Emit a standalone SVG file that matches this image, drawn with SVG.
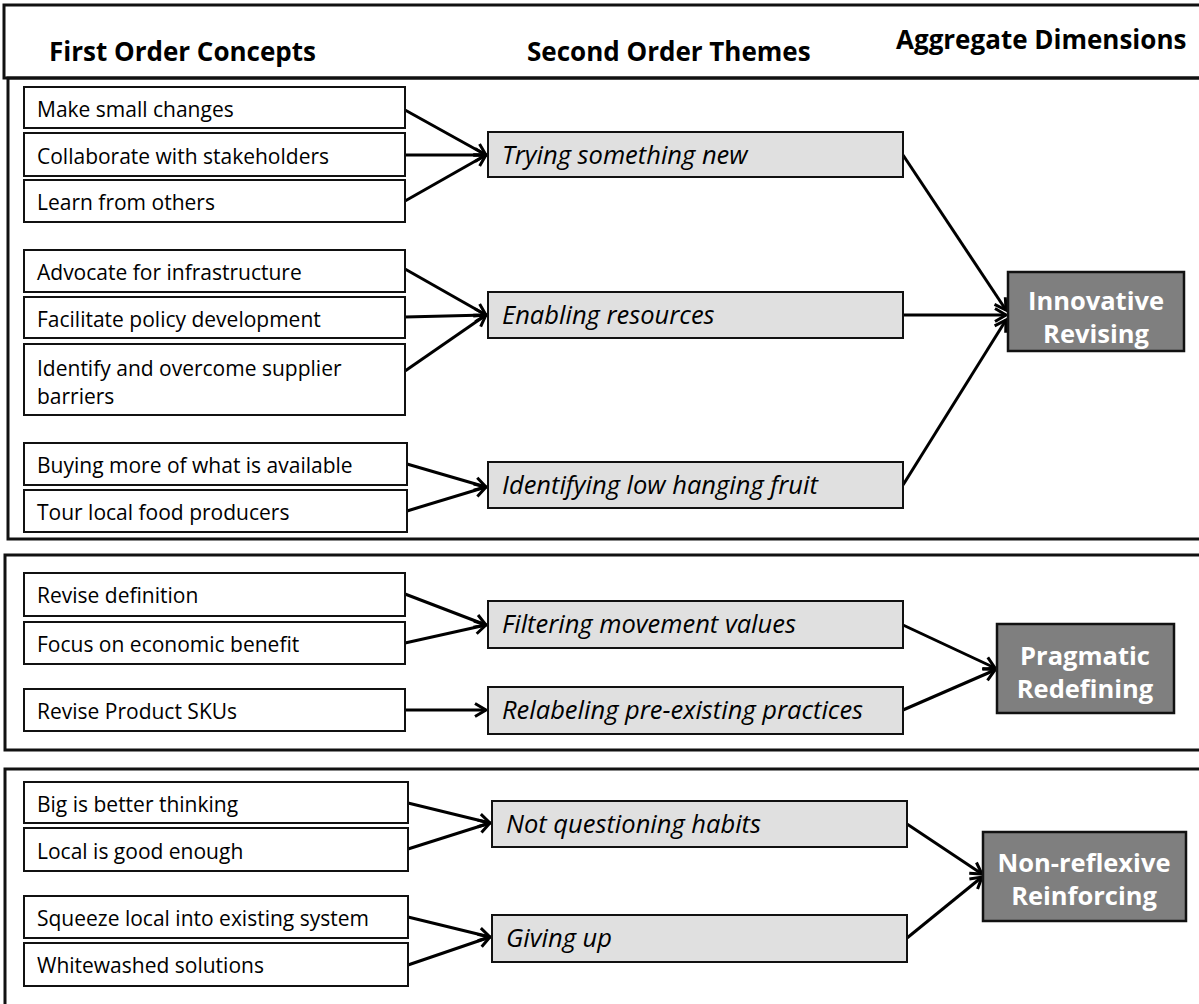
<svg xmlns="http://www.w3.org/2000/svg" width="1199" height="1004" viewBox="0 0 1199 1004">
  <style>
    .frame { fill: none; stroke: #111; stroke-width: 3; }
    .c1 rect { fill: #fff; stroke: #111; stroke-width: 2; }
    .c2 rect { fill: #e0e0e0; stroke: #111; stroke-width: 2; }
    .c3 rect { fill: #7f7f7f; stroke: #111; stroke-width: 2.5; }
    .hd { font-family: "Open Sans", "Liberation Sans", sans-serif; font-weight: bold; font-size: 26px; fill: #000; }
    .t1 { font-family: "Open Sans", "Liberation Sans", sans-serif; font-size: 21px; fill: #000; }
    .t2 { font-family: "Open Sans", "Liberation Sans", sans-serif; font-style: italic; font-size: 25.5px; fill: #000; }
    .t3 { font-family: "Open Sans", "Liberation Sans", sans-serif; font-weight: bold; font-size: 25.5px; fill: #fff; text-anchor: middle; }
    .edges line { stroke: #000; stroke-width: 3; marker-end: url(#arr); }
  </style>
  <defs>
    <marker id="arr" markerUnits="userSpaceOnUse" markerWidth="18" markerHeight="18" viewBox="0 0 18 18" refX="15" refY="9" orient="auto">
      <path d="M4,2.5 L15,9 L4,15.5" fill="none" stroke="#000" stroke-width="3"/>
    </marker>
  </defs>

  <rect width="1199" height="1004" fill="#fff"/>

  <!-- header band and section frames -->
  <g id="frames">
    <rect class="frame" x="4" y="5" width="1210" height="73"/>
    <rect class="frame" x="8" y="78" width="1210" height="461"/>
    <rect class="frame" x="5" y="555" width="1210" height="195"/>
    <rect class="frame" x="5" y="769" width="1210" height="250"/>
  </g>

  <g id="headers">
    <text class="hd" x="49" y="61">First Order Concepts</text>
    <text class="hd" x="527" y="61">Second Order Themes</text>
    <text class="hd" x="896" y="49">Aggregate Dimensions</text>
  </g>

  <!-- connectors -->
  <g class="edges" id="connectors">
    <line x1="405" y1="110" x2="486" y2="155"/>
    <line x1="405" y1="155" x2="486" y2="155"/>
    <line x1="405" y1="201" x2="486" y2="155"/>
    <line x1="405" y1="269" x2="486" y2="315"/>
    <line x1="405" y1="317" x2="486" y2="315"/>
    <line x1="405" y1="371" x2="486" y2="315"/>
    <line x1="407" y1="464" x2="486" y2="487"/>
    <line x1="407" y1="511" x2="486" y2="487"/>
    <line x1="903" y1="155" x2="1006" y2="310"/>
    <line x1="903" y1="315" x2="1006" y2="315"/>
    <line x1="903" y1="485" x2="1006" y2="320"/>
    <line x1="405" y1="594" x2="486" y2="625"/>
    <line x1="405" y1="643" x2="486" y2="625"/>
    <line x1="405" y1="710" x2="486" y2="710"/>
    <line x1="903" y1="625" x2="995" y2="668"/>
    <line x1="903" y1="710" x2="995" y2="670"/>
    <line x1="408" y1="803" x2="490" y2="823"/>
    <line x1="408" y1="849" x2="490" y2="823"/>
    <line x1="408" y1="917" x2="490" y2="937"/>
    <line x1="408" y1="965" x2="490" y2="937"/>
    <line x1="907" y1="824" x2="982" y2="874"/>
    <line x1="907" y1="938" x2="982" y2="877"/>
  </g>

  <!-- first order concepts -->
  <g class="c1">
    <g id="n-make-small-changes"><rect x="24" y="87" width="381" height="41"/><text class="t1" x="37" y="117">Make small changes</text></g>
    <g id="n-collaborate"><rect x="24" y="133" width="381" height="43"/><text class="t1" x="37" y="164">Collaborate with stakeholders</text></g>
    <g id="n-learn"><rect x="24" y="180" width="381" height="42"/><text class="t1" x="37" y="210">Learn from others</text></g>
    <g id="n-advocate"><rect x="24" y="250" width="381" height="42"/><text class="t1" x="37" y="280">Advocate for infrastructure</text></g>
    <g id="n-facilitate"><rect x="24" y="297" width="381" height="41"/><text class="t1" x="37" y="327">Facilitate policy development</text></g>
    <g id="n-identify"><rect x="24" y="344" width="381" height="71"/><text class="t1" x="37" y="376">Identify and overcome supplier</text><text class="t1" x="37" y="404">barriers</text></g>
    <g id="n-buying"><rect x="24" y="443" width="383" height="42"/><text class="t1" x="37" y="473">Buying more of what is available</text></g>
    <g id="n-tour"><rect x="24" y="490" width="383" height="42"/><text class="t1" x="37" y="520">Tour local food producers</text></g>
    <g id="n-revise-definition"><rect x="24" y="573" width="381" height="43"/><text class="t1" x="37" y="603">Revise definition</text></g>
    <g id="n-focus"><rect x="24" y="622" width="381" height="42"/><text class="t1" x="37" y="652">Focus on economic benefit</text></g>
    <g id="n-revise-skus"><rect x="24" y="689" width="381" height="42"/><text class="t1" x="37" y="719">Revise Product SKUs</text></g>
    <g id="n-big"><rect x="24" y="782" width="384" height="41"/><text class="t1" x="37" y="812">Big is better thinking</text></g>
    <g id="n-local"><rect x="24" y="828" width="384" height="43"/><text class="t1" x="37" y="859">Local is good enough</text></g>
    <g id="n-squeeze"><rect x="24" y="896" width="384" height="42"/><text class="t1" x="37" y="926">Squeeze local into existing system</text></g>
    <g id="n-whitewashed"><rect x="24" y="943" width="384" height="43"/><text class="t1" x="37" y="973">Whitewashed solutions</text></g>
  </g>

  <!-- second order themes -->
  <g class="c2">
    <g id="n-trying"><rect x="488" y="132" width="415" height="45"/><text class="t2" x="502" y="164">Trying something new</text></g>
    <g id="n-enabling"><rect x="488" y="292" width="415" height="46"/><text class="t2" x="502" y="324">Enabling resources</text></g>
    <g id="n-low-hanging"><rect x="488" y="462" width="415" height="46"/><text class="t2" x="502" y="494">Identifying low hanging fruit</text></g>
    <g id="n-filtering"><rect x="488" y="601" width="415" height="47"/><text class="t2" x="502" y="633">Filtering movement values</text></g>
    <g id="n-relabeling"><rect x="488" y="687" width="415" height="47"/><text class="t2" x="502" y="719">Relabeling pre-existing practices</text></g>
    <g id="n-not-questioning"><rect x="492" y="801" width="415" height="46"/><text class="t2" x="506" y="833">Not questioning habits</text></g>
    <g id="n-giving-up"><rect x="492" y="915" width="415" height="47"/><text class="t2" x="506" y="947">Giving up</text></g>
  </g>

  <!-- aggregate dimensions -->
  <g class="c3">
    <g id="n-innovative"><rect x="1008" y="272" width="176" height="79"/><text class="t3" x="1096" y="310">Innovative</text><text class="t3" x="1096" y="343">Revising</text></g>
    <g id="n-pragmatic"><rect x="997" y="624" width="177" height="89"/><text class="t3" x="1085" y="665">Pragmatic</text><text class="t3" x="1085" y="698">Redefining</text></g>
    <g id="n-nonreflexive"><rect x="983" y="832" width="203" height="89"/><text class="t3" x="1084" y="872">Non-reflexive</text><text class="t3" x="1084" y="905">Reinforcing</text></g>
  </g>
</svg>
